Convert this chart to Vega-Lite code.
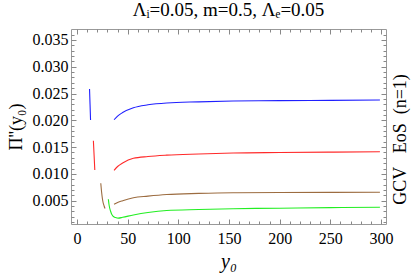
{
  "$schema": "https://vega.github.io/schema/vega-lite/v6.json",
  "autosize": {"type": "none"},
  "width": 315,
  "height": 195,
  "padding": {"left": 71, "top": 29, "right": 29, "bottom": 54},
  "background": "white",
  "title": {"text": "Λᵢ=0.05, m=0.5, Λₑ=0.05", "font": "Liberation Serif", "fontSize": 19, "fontWeight": "normal", "color": "black", "offset": 7},
  "config": {
    "view": {"stroke": "#999", "strokeWidth": 1},
    "axis": {"domain": false, "grid": false, "tickColor": "#888", "labelFont": "Liberation Serif", "labelFontSize": 16, "labelColor": "black", "labelOverlap": false, "labelFlush": false, "labelBound": false, "titleFont": "Liberation Serif", "titleFontWeight": "normal", "titleColor": "black"}
  },
  "data": {"values": [
    {"s": "b", "k": "b1", "x": 12.3, "v": 0.02584},
    {"s": "b", "k": "b1", "x": 12.8, "v": 0.0230},
    {"s": "b", "k": "b1", "x": 13.3, "v": 0.02006},
    {"s": "b", "k": "b2", "x": 36.5, "v": 0.02011},
    {"s": "b", "k": "b2", "x": 40, "v": 0.0208},
    {"s": "b", "k": "b2", "x": 45, "v": 0.02146},
    {"s": "b", "k": "b2", "x": 55.6, "v": 0.02235},
    {"s": "b", "k": "b2", "x": 70, "v": 0.0229},
    {"s": "b", "k": "b2", "x": 88.5, "v": 0.02325},
    {"s": "b", "k": "b2", "x": 120, "v": 0.02345},
    {"s": "b", "k": "b2", "x": 154, "v": 0.0236},
    {"s": "b", "k": "b2", "x": 200, "v": 0.02368},
    {"s": "b", "k": "b2", "x": 250, "v": 0.02373},
    {"s": "b", "k": "b2", "x": 299, "v": 0.02379},
    {"s": "r", "k": "r1", "x": 16.1, "v": 0.01619},
    {"s": "r", "k": "r1", "x": 16.8, "v": 0.0135},
    {"s": "r", "k": "r1", "x": 17.5, "v": 0.01073},
    {"s": "r", "k": "r2", "x": 36.5, "v": 0.01067},
    {"s": "r", "k": "r2", "x": 40, "v": 0.01138},
    {"s": "r", "k": "r2", "x": 45, "v": 0.01203},
    {"s": "r", "k": "r2", "x": 55.6, "v": 0.01291},
    {"s": "r", "k": "r2", "x": 70, "v": 0.01325},
    {"s": "r", "k": "r2", "x": 88.5, "v": 0.0135},
    {"s": "r", "k": "r2", "x": 120, "v": 0.01372},
    {"s": "r", "k": "r2", "x": 154, "v": 0.0139},
    {"s": "r", "k": "r2", "x": 200, "v": 0.01399},
    {"s": "r", "k": "r2", "x": 250, "v": 0.01407},
    {"s": "r", "k": "r2", "x": 299, "v": 0.01414},
    {"s": "n", "k": "n1", "x": 23.4, "v": 0.00825},
    {"s": "n", "k": "n1", "x": 24.2, "v": 0.00662},
    {"s": "n", "k": "n1", "x": 25.2, "v": 0.00513},
    {"s": "n", "k": "n1", "x": 26.7, "v": 0.00401},
    {"s": "n", "k": "n1", "x": 27.6, "v": 0.00354},
    {"s": "n", "k": "n2", "x": 36.5, "v": 0.00433},
    {"s": "n", "k": "n2", "x": 40, "v": 0.00466},
    {"s": "n", "k": "n2", "x": 45, "v": 0.005},
    {"s": "n", "k": "n2", "x": 55.6, "v": 0.00556},
    {"s": "n", "k": "n2", "x": 70, "v": 0.00585},
    {"s": "n", "k": "n2", "x": 88.5, "v": 0.00615},
    {"s": "n", "k": "n2", "x": 120, "v": 0.00636},
    {"s": "n", "k": "n2", "x": 154, "v": 0.00649},
    {"s": "n", "k": "n2", "x": 200, "v": 0.00653},
    {"s": "n", "k": "n2", "x": 250, "v": 0.00656},
    {"s": "n", "k": "n2", "x": 299, "v": 0.00657},
    {"s": "g", "k": "g1", "x": 30.9, "v": 0.00526},
    {"s": "g", "k": "g1", "x": 31.6, "v": 0.0042},
    {"s": "g", "k": "g1", "x": 33.0, "v": 0.00308},
    {"s": "g", "k": "g1", "x": 35.2, "v": 0.00215},
    {"s": "g", "k": "g1", "x": 38, "v": 0.00185},
    {"s": "g", "k": "g1", "x": 40.8, "v": 0.00175},
    {"s": "g", "k": "g1", "x": 45, "v": 0.0019},
    {"s": "g", "k": "g1", "x": 55.6, "v": 0.00233},
    {"s": "g", "k": "g1", "x": 70, "v": 0.0028},
    {"s": "g", "k": "g1", "x": 88.5, "v": 0.00318},
    {"s": "g", "k": "g1", "x": 120, "v": 0.00336},
    {"s": "g", "k": "g1", "x": 154, "v": 0.00351},
    {"s": "g", "k": "g1", "x": 200, "v": 0.0036},
    {"s": "g", "k": "g1", "x": 250, "v": 0.0037},
    {"s": "g", "k": "g1", "x": 299, "v": 0.00377}
  ]},
  "layer": [
    {
      "mark": {"type": "line", "strokeWidth": 1.1, "interpolate": "monotone"},
      "encoding": {
        "x": {"field": "x", "type": "quantitative", "scale": {"domain": [-6, 305], "nice": false, "zero": false},
          "axis": {"orient": "bottom", "values": [0,10,20,30,40,50,60,70,80,90,100,110,120,130,140,150,160,170,180,190,200,210,220,230,240,250,260,270,280,290,300],
            "labelExpr": "datum.value % 50 === 0 ? datum.label : ''",
            "tickSize": {"condition": {"test": "datum.value % 50 === 0", "value": -5}, "value": -3},
            "labelPadding": 11, "title": "y₀", "titleFontSize": 20, "titleFontStyle": "italic", "titlePadding": 3}},
        "y": {"field": "v", "type": "quantitative", "scale": {"domain": [0.00065, 0.03705], "nice": false, "zero": false},
          "axis": {"orient": "left", "values": [0.001,0.002,0.003,0.004,0.005,0.006,0.007,0.008,0.009,0.010,0.011,0.012,0.013,0.014,0.015,0.016,0.017,0.018,0.019,0.020,0.021,0.022,0.023,0.024,0.025,0.026,0.027,0.028,0.029,0.030,0.031,0.032,0.033,0.034,0.035,0.036],
            "labelExpr": "abs(datum.value*200 - round(datum.value*200)) < 1e-6 ? format(datum.value, '.3f') : ''",
            "tickSize": {"condition": {"test": "abs(datum.value*200 - round(datum.value*200)) < 1e-6", "value": -5}, "value": -3},
            "labelPadding": 8, "title": "Π''(y₀)", "titleFontSize": 18, "titlePadding": 7}},
        "color": {"field": "s", "type": "nominal", "scale": {"domain": ["b", "r", "n", "g"], "range": ["#1f1fff", "#ff2a2a", "#9c6c40", "#22ee22"]}, "legend": null},
        "detail": {"field": "k"}
      }
    },
    {
      "mark": {"type": "point", "opacity": 0},
      "encoding": {
        "x": {"field": "x", "type": "quantitative",
          "axis": {"orient": "top", "values": [0,10,20,30,40,50,60,70,80,90,100,110,120,130,140,150,160,170,180,190,200,210,220,230,240,250,260,270,280,290,300],
            "labels": false, "title": null,
            "tickSize": {"condition": {"test": "datum.value % 50 === 0", "value": -5}, "value": -3}}},
        "y": {"field": "v", "type": "quantitative",
          "axis": {"orient": "right", "values": [0.001,0.002,0.003,0.004,0.005,0.006,0.007,0.008,0.009,0.010,0.011,0.012,0.013,0.014,0.015,0.016,0.017,0.018,0.019,0.020,0.021,0.022,0.023,0.024,0.025,0.026,0.027,0.028,0.029,0.030,0.031,0.032,0.033,0.034,0.035,0.036],
            "labels": false, "title": "GCV\u00a0\u00a0\u00a0EoS\u00a0\u00a0(n=1)", "titleFontSize": 18, "titleAngle": 270,
            "titleX": 14, "titleY": 110, "titleAlign": "center", "titleBaseline": "middle",
            "tickSize": {"condition": {"test": "abs(datum.value*200 - round(datum.value*200)) < 1e-6", "value": -5}, "value": -3}}}
      }
    }
  ],
  "resolve": {"axis": {"x": "independent", "y": "independent"}}
}
